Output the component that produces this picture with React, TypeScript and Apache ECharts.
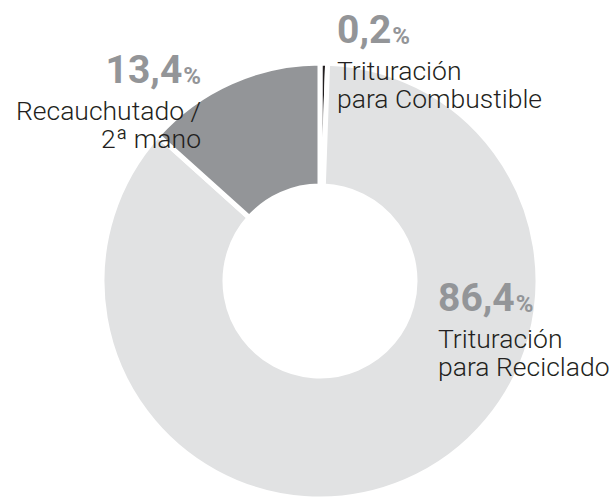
import React, { useEffect, useRef } from "react";
import * as echarts from "echarts";

const categories = ["Trituración\npara Combustible", "Trituración\npara Reciclado", "Recauchutado /\n2ª mano"];
const values = [0.2, 86.4, 13.4];
const colors = ["#231f20", "#e1e2e3", "#939598"];

const labelPos = [
  { x: 337, y: 4, align: "left" },
  { x: 438, y: 272, align: "left" },
  { x: 201, y: 44, align: "right" },
];

export default function App() {
  const ref = useRef<HTMLDivElement>(null);
  useEffect(() => {
    if (!ref.current) return;
    const chart = echarts.init(ref.current, null, { renderer: "svg" });
    const font = "Roboto";
    const mk = (align: string) => ({
      v: { fontFamily: font, fontSize: 39, fontWeight: "bold", color: "#939598", lineHeight: 52, align },
      p: {
        fontFamily: font,
        fontSize: 24,
        fontWeight: "bold",
        color: "#939598",
        verticalAlign: "bottom",
        padding: [0, 0, 8, 1],
        align,
      },
      t: { fontFamily: font, fontSize: 26.5, fontWeight: 300, color: "#231f20", lineHeight: 28, align },
    });
    const richL = mk("left");
    const richR = mk("right");
    const rich: any = {};
    Object.keys(richL).forEach((k) => {
      rich[k] = (richL as any)[k];
      rich[k + "r"] = (richR as any)[k];
    });
    chart.setOption({
      animation: false,
      series: [
        {
          type: "pie",
          center: [320, 281],
          radius: [95, 218],
          startAngle: 90,
          clockwise: true,
          minAngle: 2,
          avoidLabelOverlap: false,
          emphasis: { disabled: true },
          itemStyle: { borderColor: "#ffffff", borderWidth: 5 },
          labelLine: { show: false },
          label: {
            show: true,
            position: "outside",
            rich,
            formatter: (p: any) => {
              const s = labelPos[p.dataIndex].align === "right" ? "r" : "";
              const num = Number(p.value).toFixed(1).replace(".", ",");
              const lines = String(p.name)
                .split("\n")
                .map((l) => `{t${s}|${l}}`)
                .join("\n");
              return `{v${s}|${num}}{p${s}|%}\n${lines}`;
            },
          },
          labelLayout: (params: any) => {
            const lp = labelPos[params.dataIndex];
            return { x: lp.x, y: lp.y, align: lp.align, verticalAlign: "top" };
          },
          data: categories.map((name, i) => ({
            name,
            value: values[i],
            itemStyle: { color: colors[i] },
          })),
        },
      ],
    });
    return () => chart.dispose();
  }, []);
  return (
    <div
      ref={ref}
      style={{ position: "fixed", left: 0, top: 0, width: 616, height: 500, background: "#ffffff" }}
    />
  );
}
